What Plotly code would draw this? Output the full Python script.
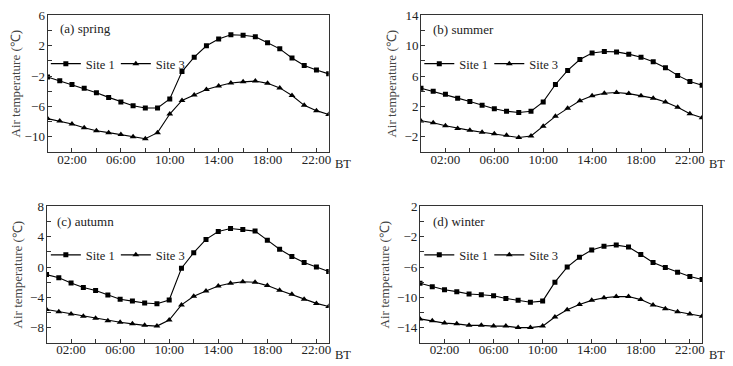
import plotly.graph_objects as go

hours = list(range(24))
tick_vals = [2, 6, 10, 14, 18, 22]
tick_text = ["02:00", "06:00", "10:00", "14:00", "18:00", "22:00"]

spring_site1 = [-2.1, -2.6, -3.1, -3.6, -4.2, -4.8, -5.4, -5.9, -6.2, -6.2, -5.0, -1.4,
                0.5, 2.0, 2.9, 3.45, 3.4, 3.2, 2.4, 1.6, 0.4, -0.6, -1.2, -1.7]
spring_site3 = [-7.6, -7.9, -8.3, -8.8, -9.2, -9.45, -9.7, -10.0, -10.25, -9.45, -7.0, -5.2,
                -4.5, -3.75, -3.3, -2.9, -2.75, -2.65, -2.95, -3.55, -4.55, -5.85, -6.55, -7.05]
summer_site1 = [4.4, 4.0, 3.6, 3.1, 2.65, 2.15, 1.7, 1.37, 1.2, 1.37, 2.6, 4.9,
                6.75, 8.2, 9.05, 9.26, 9.2, 8.9, 8.5, 7.9, 7.1, 6.1, 5.3, 4.8]
summer_site3 = [0.1, -0.15, -0.55, -0.9, -1.15, -1.4, -1.6, -1.8, -2.1, -1.9, -0.6, 0.7,
                1.75, 2.75, 3.4, 3.75, 3.85, 3.7, 3.4, 3.1, 2.6, 1.9, 1.05, 0.5]
autumn_site1 = [-1.0, -1.4, -2.1, -2.7, -3.1, -3.7, -4.25, -4.5, -4.75, -4.85, -4.35, -0.15,
                1.9, 3.65, 4.7, 5.1, 4.95, 4.75, 3.55, 2.35, 1.4, 0.6, 0.0, -0.6]
autumn_site3 = [-5.6, -5.9, -6.2, -6.5, -6.75, -7.1, -7.3, -7.5, -7.7, -7.8, -7.0, -5.0,
                -3.85, -3.15, -2.5, -2.15, -1.95, -2.0, -2.45, -3.05, -3.6, -4.25, -4.8, -5.2]
winter_site1 = [-8.15, -8.6, -9.0, -9.25, -9.55, -9.65, -9.8, -10.15, -10.4, -10.65, -10.5, -8.0,
                -6.0, -4.7, -3.75, -3.25, -3.1, -3.35, -4.35, -5.4, -6.05, -6.7, -7.25, -7.65]
winter_site3 = [-12.85, -13.1, -13.4, -13.5, -13.7, -13.7, -13.8, -13.8, -14.0, -14.0, -13.8, -12.6,
                -11.65, -10.95, -10.4, -10.05, -9.9, -9.9, -10.3, -11.0, -11.5, -11.9, -12.2, -12.5]

panel_labels = ["(a) spring", "(b) summer", "(c) autumn", "(d) winter"]
series_names = ["Site 1", "Site 3"]
y_ranges = [[-12, 6], [-4, 14], [-10, 8], [-16, 2]]
y_tick0 = [2, 2, 0, 2]
y_title = "Air temperature (℃)"

# the page body has an 8px default margin: lay out in window pixels, then offset
OFF = 8
WIN_W, WIN_H = 733, 366
W, H = WIN_W - OFF, WIN_H - OFF
FONT = "Liberation Serif, Times New Roman, serif"
TXT = "#222"


def px(x):
    return min(max((x - OFF) / W, 0), 1)


def py(y):
    return min(max(1 - (y - OFF) / H, 0), 1)


# panel geometry in window pixels: (left, right, top, bottom)
boxes = [(47.7, 330, 8.5, 147.7), (422.7, 705, 8.5, 147.7),
         (46.7, 330, 203.3, 342.3), (421.7, 705, 203.3, 342.3)]
legend_pos = [(46, 58), (421, 58), (46, 253), (421, 253)]
label_pos = [(58, 22), (433, 22.5), (55, 218.5), (433, 218.5)]
# BT labels: (x, y, anchor)
bt_pos = [(334, 160, "left"), (730, 160, "right"), (334, 355, "left"), (730, 355, "right")]

data = [(spring_site1, spring_site3), (summer_site1, summer_site3),
        (autumn_site1, autumn_site3), (winter_site1, winter_site3)]

fig = go.Figure()
layout = dict(
    width=W, height=H, margin=dict(l=0, r=0, t=0, b=0),
    paper_bgcolor="white", plot_bgcolor="white",
    font=dict(family=FONT, size=13, color=TXT),
    annotations=[],
)

for i, (s1, s3) in enumerate(data):
    n = "" if i == 0 else str(i + 1)
    xa, ya = "x" + n, "y" + n
    leg = "legend" + n
    fig.add_trace(go.Scatter(x=hours, y=s1, name=series_names[0], mode="lines+markers",
                             xaxis=xa, yaxis=ya, legend=leg,
                             line=dict(color="black", width=1.1),
                             marker=dict(symbol="square", size=5, color="black")))
    fig.add_trace(go.Scatter(x=hours, y=s3, name=series_names[1], mode="lines+markers",
                             xaxis=xa, yaxis=ya, legend=leg,
                             line=dict(color="black", width=1.1),
                             marker=dict(symbol="triangle-up", size=6, color="black")))
    l, r, t, b = boxes[i]
    layout["xaxis" + n] = dict(
        domain=[px(l), px(r)], anchor=ya, range=[0, 23],
        tickvals=tick_vals, ticktext=tick_text, ticks="inside", ticklen=4,
        tickcolor="#333", tickfont=dict(size=13, family=FONT, color=TXT),
        ticklabelstandoff=-5,
        minor=dict(tickvals=list(range(0, 24, 2)), ticks="inside", ticklen=4, tickcolor="#333"),
        showline=True, linecolor="#333", linewidth=1, mirror=True,
        showgrid=False, zeroline=False,
    )
    layout["yaxis" + n] = dict(
        domain=[py(b), py(t)], anchor=xa, range=y_ranges[i],
        tick0=y_tick0[i], dtick=4, ticks="inside", ticklen=4, tickcolor="#333",
        tickfont=dict(size=13, family=FONT, color=TXT),
        ticklabelstandoff=-1,
        minor=dict(tick0=0, dtick=2, ticks="inside", ticklen=4, tickcolor="#333"),
        showline=True, linecolor="#333", linewidth=1, mirror=True,
        showgrid=False, zeroline=False,
        title=dict(text=y_title, font=dict(size=13, family=FONT, color="#444"), standoff=4),
    )
    lx, ly = legend_pos[i]
    layout[leg] = dict(
        x=px(lx), y=py(ly), xanchor="left", yanchor="middle",
        orientation="h", bgcolor="rgba(0,0,0,0)", itemwidth=30,
        entrywidth=25, entrywidthmode="pixels",
        font=dict(size=12.5, family=FONT, color=TXT), tracegroupgap=0,
    )
    ax, ay = label_pos[i]
    layout["annotations"].append(dict(
        text=panel_labels[i], x=px(ax), y=py(ay), xref="paper", yref="paper",
        xanchor="left", yanchor="middle", showarrow=False,
        font=dict(size=13, family=FONT, color=TXT)))
    bx, by, banchor = bt_pos[i]
    layout["annotations"].append(dict(
        text="BT", x=px(bx), y=py(by), xref="paper", yref="paper",
        xanchor=banchor, yanchor="middle", showarrow=False,
        font=dict(size=12.5, family=FONT, color=TXT)))

fig.update_layout(**layout)
fig.write_html("out.html")
